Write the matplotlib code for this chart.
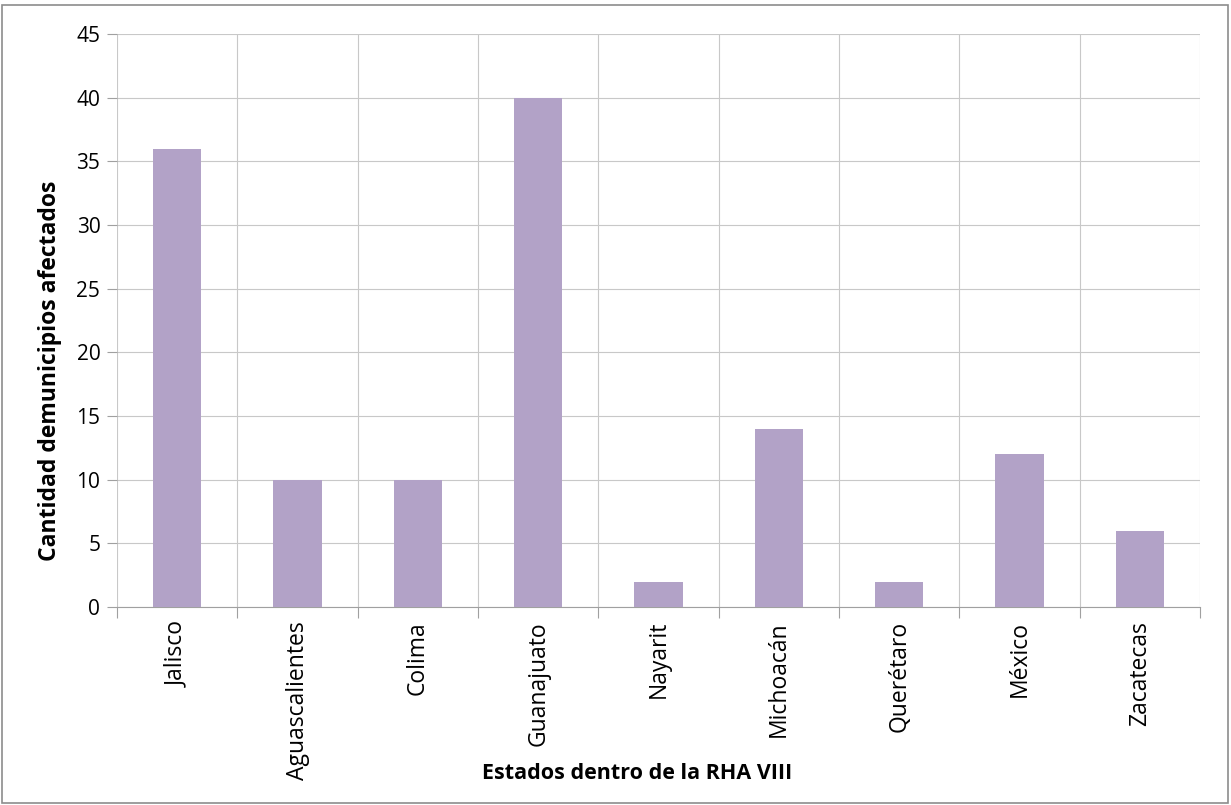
import matplotlib
matplotlib.use("Agg")
import matplotlib.pyplot as plt
from matplotlib.patches import Rectangle
import numpy as np

estados = ["Jalisco", "Aguascalientes", "Colima", "Guanajuato", "Nayarit",
           "Michoacán", "Querétaro", "México", "Zacatecas"]
municipios = [36, 10, 10, 40, 2, 14, 2, 12, 6]
y_ticks = [0, 5, 10, 15, 20, 25, 30, 35, 40, 45]

plt.rcParams["font.family"] = ["Open Sans", "DejaVu Sans"]

fig = plt.figure(figsize=(12.31, 8.05), dpi=100)
ax = fig.add_axes([117 / 1231, 1 - 607 / 805, (1200 - 117) / 1231, (607 - 34) / 805])

x = np.arange(len(estados))
ax.bar(x, municipios, width=0.4, color="#b2a2c7", zorder=3)

ax.set_xlim(-0.5, len(estados) - 0.5)
ax.set_ylim(0, 45)
ax.set_yticks(y_ticks)
ax.set_yticklabels([str(v) for v in y_ticks], fontsize=15)

# category boundaries as vertical grid lines
ax.set_xticks(np.arange(-0.5, len(estados), 1.0))
ax.set_xticklabels([])
ax.set_xticks(x, minor=True)
ax.set_xticklabels(estados, minor=True, rotation=90, fontsize=16.5)
ax.tick_params(axis="x", which="minor", length=0, pad=10)
ax.tick_params(axis="x", which="major", length=8, color="#a0a0a0")
ax.tick_params(axis="y", length=7, color="#a0a0a0", pad=5)

ax.grid(True, which="major", color="#c8c8c8", linewidth=0.8, zorder=0)

for side in ["top", "right", "left"]:
    ax.spines[side].set_visible(False)
ax.spines["bottom"].set_color("#a0a0a0")

ax.set_ylabel("Cantidad demunicipios afectados", fontsize=16.5, fontweight="bold")
ax.yaxis.set_label_coords(-0.051, 0.413)
ax.set_xlabel("Estados dentro de la RHA VIII", fontsize=15.5, fontweight="bold")
ax.xaxis.set_label_coords(0.48, -0.272)

fig.patches.append(Rectangle((2 / 1231, 2 / 805), 1226 / 1231, 798 / 805,
                             transform=fig.transFigure, fill=False,
                             edgecolor="#8c8c8c", linewidth=1.2))

fig.savefig("out.png", dpi=100)
